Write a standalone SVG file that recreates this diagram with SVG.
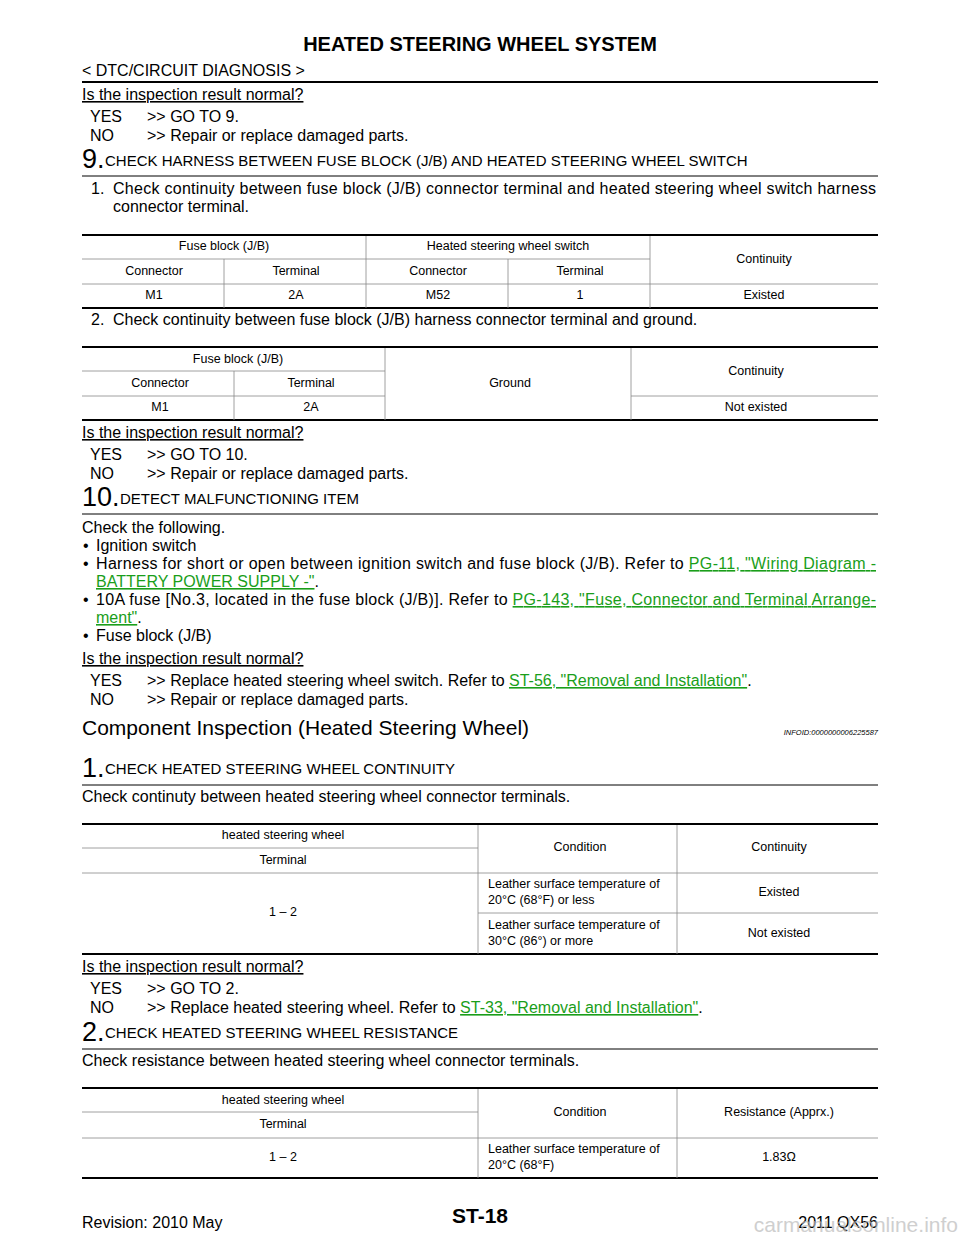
<svg xmlns="http://www.w3.org/2000/svg" width="960" height="1242" viewBox="0 0 960 1242">
<style>
text{font-family:"Liberation Sans",Arial,sans-serif;fill:#000}
.b{font-size:16px}
.t{font-size:12.5px}
.m{text-anchor:middle}
.u{text-decoration:underline}
.lk{fill:#1a9e1a;text-decoration:underline}
.big{font-size:27px}
.h{font-size:15px}
.thick{stroke:#000;stroke-width:2.2}
.thin{stroke:#888;stroke-width:0.8}
.rule{stroke:#000;stroke-width:1}
</style>
<rect width="960" height="1242" fill="#fff"/>
<text x="480" y="51" class="m" style="font-size:20px;font-weight:bold">HEATED STEERING WHEEL SYSTEM</text>
<text x="82" y="76" class="b">&lt; DTC/CIRCUIT DIAGNOSIS &gt;</text>
<line x1="82" y1="82" x2="878" y2="82" class="thick"/>

<text x="82" y="100" class="b u">Is the inspection result normal?</text>
<text x="90" y="122" class="b">YES</text><text x="147" y="122" class="b">&gt;&gt; GO TO 9.</text>
<text x="90" y="141" class="b">NO</text><text x="147" y="141" class="b">&gt;&gt; Repair or replace damaged parts.</text>

<text x="82" y="168" class="big">9.</text><text x="105" y="166" class="h">CHECK HARNESS BETWEEN FUSE BLOCK (J/B) AND HEATED STEERING WHEEL SWITCH</text>
<line x1="82" y1="176" x2="878" y2="176" class="rule"/>
<text x="91" y="194" class="b">1.</text><text x="113" y="194" class="b" textLength="763">Check continuity between fuse block (J/B) connector terminal and heated steering wheel switch harness</text>
<text x="113" y="212" class="b">connector terminal.</text>

<g id="table1">
<line x1="82" y1="235" x2="878" y2="235" class="thick"/>
<line x1="82" y1="259" x2="650" y2="259" class="thin"/>
<line x1="82" y1="284" x2="878" y2="284" class="thin"/>
<line x1="82" y1="308" x2="878" y2="308" class="thick"/>
<line x1="224" y1="259" x2="224" y2="308" class="thin"/>
<line x1="366" y1="236" x2="366" y2="308" class="thin"/>
<line x1="508" y1="259" x2="508" y2="308" class="thin"/>
<line x1="650" y1="236" x2="650" y2="308" class="thin"/>
<text x="224" y="250" class="t m">Fuse block (J/B)</text>
<text x="508" y="250" class="t m">Heated steering wheel switch</text>
<text x="764" y="263" class="t m">Continuity</text>
<text x="154" y="275" class="t m">Connector</text><text x="296" y="275" class="t m">Terminal</text>
<text x="438" y="275" class="t m">Connector</text><text x="580" y="275" class="t m">Terminal</text>
<text x="154" y="299" class="t m">M1</text><text x="296" y="299" class="t m">2A</text>
<text x="438" y="299" class="t m">M52</text><text x="580" y="299" class="t m">1</text>
<text x="764" y="299" class="t m">Existed</text>
</g>

<text x="91" y="325" class="b">2.</text><text x="113" y="325" class="b">Check continuity between fuse block (J/B) harness connector terminal and ground.</text>

<g id="table2">
<line x1="82" y1="347" x2="878" y2="347" class="thick"/>
<line x1="82" y1="371" x2="385" y2="371" class="thin"/>
<line x1="82" y1="396" x2="385" y2="396" class="thin"/>
<line x1="631" y1="396" x2="878" y2="396" class="thin"/>
<line x1="82" y1="420" x2="878" y2="420" class="thick"/>
<line x1="234" y1="371" x2="234" y2="420" class="thin"/>
<line x1="385" y1="348" x2="385" y2="420" class="thin"/>
<line x1="631" y1="348" x2="631" y2="420" class="thin"/>
<text x="238" y="363" class="t m">Fuse block (J/B)</text>
<text x="160" y="387" class="t m">Connector</text><text x="311" y="387" class="t m">Terminal</text>
<text x="160" y="411" class="t m">M1</text><text x="311" y="411" class="t m">2A</text>
<text x="510" y="387" class="t m">Ground</text>
<text x="756" y="375" class="t m">Continuity</text>
<text x="756" y="411" class="t m">Not existed</text>
</g>

<text x="82" y="438" class="b u">Is the inspection result normal?</text>
<text x="90" y="460" class="b">YES</text><text x="147" y="460" class="b">&gt;&gt; GO TO 10.</text>
<text x="90" y="479" class="b">NO</text><text x="147" y="479" class="b">&gt;&gt; Repair or replace damaged parts.</text>

<text x="82" y="506" class="big">10.</text><text x="120" y="504" class="h">DETECT MALFUNCTIONING ITEM</text>
<line x1="82" y1="514" x2="878" y2="514" class="rule"/>
<text x="82" y="533" class="b">Check the following.</text>
<text x="83" y="551" class="b">•</text><text x="96" y="551" class="b">Ignition switch</text>
<text x="83" y="569" class="b">•</text><text x="96" y="569" class="b" textLength="780">Harness for short or open between ignition switch and fuse block (J/B). Refer to <tspan class="lk">PG-11, "Wiring Diagram -</tspan></text>
<text x="96" y="587" class="b"><tspan class="lk">BATTERY POWER SUPPLY -"</tspan>.</text>
<text x="83" y="605" class="b">•</text><text x="96" y="605" class="b" textLength="780">10A fuse [No.3, located in the fuse block (J/B)]. Refer to <tspan class="lk">PG-143, "Fuse, Connector and Terminal Arrange-</tspan></text>
<text x="96" y="623" class="b"><tspan class="lk">ment"</tspan>.</text>
<text x="83" y="641" class="b">•</text><text x="96" y="641" class="b">Fuse block (J/B)</text>

<text x="82" y="664" class="b u">Is the inspection result normal?</text>
<text x="90" y="686" class="b">YES</text><text x="147" y="686" class="b">&gt;&gt; Replace heated steering wheel switch. Refer to <tspan class="lk">ST-56, "Removal and Installation"</tspan>.</text>
<text x="90" y="705" class="b">NO</text><text x="147" y="705" class="b">&gt;&gt; Repair or replace damaged parts.</text>

<text x="82" y="735" style="font-size:21px">Component Inspection (Heated Steering Wheel)</text>
<text x="878" y="735" style="font-size:7.5px;font-style:italic;text-anchor:end">INFOID:0000000006225587</text>

<text x="82" y="777" class="big">1.</text><text x="105" y="774" class="h">CHECK HEATED STEERING WHEEL CONTINUITY</text>
<line x1="82" y1="785" x2="878" y2="785" class="rule"/>
<text x="82" y="802" class="b">Check continuty between heated steering wheel connector terminals.</text>

<g id="table3">
<line x1="82" y1="824" x2="878" y2="824" class="thick"/>
<line x1="82" y1="848" x2="478" y2="848" class="thin"/>
<line x1="82" y1="873" x2="878" y2="873" class="thin"/>
<line x1="478" y1="913" x2="878" y2="913" class="thin"/>
<line x1="82" y1="954" x2="878" y2="954" class="thick"/>
<line x1="478" y1="825" x2="478" y2="954" class="thin"/>
<line x1="677" y1="825" x2="677" y2="954" class="thin"/>
<text x="283" y="839" class="t m">heated steering wheel</text>
<text x="283" y="864" class="t m">Terminal</text>
<text x="580" y="851" class="t m">Condition</text>
<text x="779" y="851" class="t m">Continuity</text>
<text x="283" y="916" class="t m">1 – 2</text>
<text x="488" y="888" class="t">Leather surface temperature of</text>
<text x="488" y="904" class="t">20°C (68°F) or less</text>
<text x="779" y="896" class="t m">Existed</text>
<text x="488" y="929" class="t">Leather surface temperature of</text>
<text x="488" y="945" class="t">30°C (86°) or more</text>
<text x="779" y="937" class="t m">Not existed</text>
</g>

<text x="82" y="972" class="b u">Is the inspection result normal?</text>
<text x="90" y="994" class="b">YES</text><text x="147" y="994" class="b">&gt;&gt; GO TO 2.</text>
<text x="90" y="1013" class="b">NO</text><text x="147" y="1013" class="b">&gt;&gt; Replace heated steering wheel. Refer to <tspan class="lk">ST-33, "Removal and Installation"</tspan>.</text>

<text x="82" y="1041" class="big">2.</text><text x="105" y="1038" class="h">CHECK HEATED STEERING WHEEL RESISTANCE</text>
<line x1="82" y1="1049" x2="878" y2="1049" class="rule"/>
<text x="82" y="1066" class="b">Check resistance between heated steering wheel connector terminals.</text>

<g id="table4">
<line x1="82" y1="1088" x2="878" y2="1088" class="thick"/>
<line x1="82" y1="1112" x2="478" y2="1112" class="thin"/>
<line x1="82" y1="1138" x2="878" y2="1138" class="thin"/>
<line x1="82" y1="1178" x2="878" y2="1178" class="thick"/>
<line x1="478" y1="1089" x2="478" y2="1178" class="thin"/>
<line x1="677" y1="1089" x2="677" y2="1178" class="thin"/>
<text x="283" y="1104" class="t m">heated steering wheel</text>
<text x="283" y="1128" class="t m">Terminal</text>
<text x="580" y="1116" class="t m">Condition</text>
<text x="779" y="1116" class="t m">Resistance (Apprx.)</text>
<text x="283" y="1161" class="t m">1 – 2</text>
<text x="488" y="1153" class="t">Leather surface temperature of</text>
<text x="488" y="1169" class="t">20°C (68°F)</text>
<text x="779" y="1161" class="t m">1.83Ω</text>
</g>

<text x="82" y="1228" class="b">Revision: 2010 May</text>
<text x="480" y="1223" class="m" style="font-size:21px;font-weight:bold">ST-18</text>
<text x="878" y="1228" class="b" style="text-anchor:end">2011 QX56</text>
<text x="958" y="1232" style="font-size:21px;fill:#bbb;text-anchor:end;opacity:0.7">carmanualsonline.info</text>
</svg>
